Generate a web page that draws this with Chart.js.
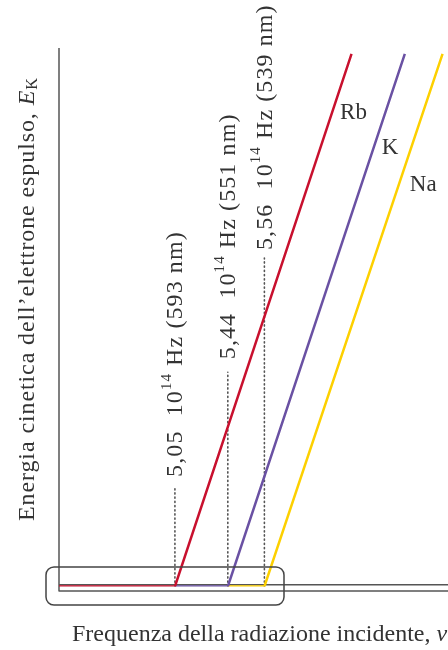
<!DOCTYPE html>
<html>
<head>
<meta charset="utf-8">
<script src="https://cdn.jsdelivr.net/npm/chart.js@4/dist/chart.umd.min.js"></script>
<style>
  html, body { margin: 0; padding: 0; background: #fff; }
  canvas { display: block; }
</style>
</head>
<body>
<canvas id="myChart" width="448" height="650"></canvas>
<script>
// schematic plot: x and y are in arbitrary units (0-100), the graph is not to scale
var metals = ['Rb', 'K', 'Na'];
var thresholdLabels = ['5,05', '5,44', '5,56'];   // x 10^14 Hz
var wavelengths = ['593', '551', '539'];          // nm
var kneeX = [29.8, 43.4, 52.8];                   // threshold frequency on the axis
var topX = [75.2, 88.9, 98.6];
var topY = [98.9, 98.9, 98.9];
var dotTopY = [18.5, 39.8, 61.0];                 // end of the dotted guide lines
var colors = ['#c8102e', '#6a51a3', '#fdd000'];

var SERIF = '"Liberation Serif", "DejaVu Serif", serif';
var TEXT = '#333333';
var AXIS = '#555555';

var datasets = [];
for (var i = 0; i < metals.length; i++) {
    var startX = i == 0 ? 0 : kneeX[i - 1];
    datasets.push({
        label: metals[i],
        data: [{x: startX, y: 0}, {x: kneeX[i], y: 0}, {x: topX[i], y: topY[i]}],
        borderColor: colors[i],
        borderWidth: 2.5,
        showLine: true,
        pointRadius: 0,
        fill: false,
        order: 1
    });
}
for (var j = 0; j < kneeX.length; j++) {
    datasets.push({
        label: 'soglia ' + thresholdLabels[j],
        data: [{x: kneeX[j], y: 0}, {x: kneeX[j], y: dotTopY[j]}],
        borderColor: '#555',
        borderWidth: 1.6,
        borderDash: [1.2, 3],
        borderCapStyle: 'round',
        showLine: true,
        pointRadius: 0,
        order: 2
    });
}

// draws a run of [text, style] pieces along the current x direction
function drawPieces(ctx, pieces, size, spacing) {
    var x = 0;
    ctx.letterSpacing = (spacing || 0) + 'px';
    pieces.forEach(function (p) {
        var s = p.sup ? size * 0.62 : (p.sub ? size * 0.68 : size);
        ctx.font = (p.italic ? 'italic ' : '') + s + 'px ' + SERIF;
        var dy = p.sup ? -size * 0.38 : (p.sub ? size * 0.2 : 0);
        ctx.fillText(p.t, x, dy);
        x += ctx.measureText(p.t).width;
    });
    ctx.letterSpacing = '0px';
}

var decor = {
    id: 'decor',
    beforeDatasetsDraw: function (chart) {
        var ctx = chart.ctx;
        ctx.save();
        ctx.strokeStyle = AXIS;
        ctx.lineWidth = 1.5;
        ctx.beginPath();
        ctx.moveTo(59, 48); ctx.lineTo(59, 591.5);
        ctx.moveTo(59, 584.8); ctx.lineTo(448, 584.8);
        ctx.moveTo(59, 591); ctx.lineTo(448, 591);
        ctx.stroke();
        ctx.restore();
    },
    afterDatasetsDraw: function (chart) {
        var ctx = chart.ctx;
        var xs = chart.scales.x, ys = chart.scales.y;
        ctx.save();
        // inset box around the threshold zone
        ctx.strokeStyle = '#444';
        ctx.lineWidth = 1.5;
        ctx.beginPath();
        ctx.roundRect(46, 567, 238, 38, 8);
        ctx.stroke();

        ctx.fillStyle = TEXT;
        ctx.textBaseline = 'middle';
        // rotated threshold labels
        var gaps = [10, 13, 8];
        for (var i = 0; i < kneeX.length; i++) {
            ctx.save();
            ctx.translate(xs.getPixelForValue(kneeX[i]) + 1, ys.getPixelForValue(dotTopY[i]) - gaps[i]);
            ctx.rotate(-Math.PI / 2);
            drawPieces(ctx, [
                {t: thresholdLabels[i] + '  10'},
                {t: '14', sup: true},
                {t: ' Hz (' + wavelengths[i] + ' nm)'}
            ], 24, 1.1);
            ctx.restore();
        }
        // metal names next to each line
        var labelAt = [88, 81.5, 74.6];
        var labelDx = [8, 8, 11];
        ctx.font = '23px ' + SERIF;
        for (var k = 0; k < metals.length; k++) {
            var t = labelAt[k] / topY[k];
            var lx = kneeX[k] + (topX[k] - kneeX[k]) * t;
            ctx.fillText(metals[k], xs.getPixelForValue(lx) + labelDx[k], ys.getPixelForValue(labelAt[k]));
        }
        // y axis title
        ctx.save();
        ctx.translate(28, 521);
        ctx.rotate(-Math.PI / 2);
        ctx.textBaseline = 'middle';
        drawPieces(ctx, [
            {t: 'Energia cinetica dell\u2019elettrone espulso, '},
            {t: 'E', italic: true},
            {t: 'K', sub: true}
        ], 24, 0.9);
        ctx.restore();
        // x axis title
        ctx.save();
        ctx.translate(72, 641);
        ctx.textBaseline = 'alphabetic';
        drawPieces(ctx, [
            {t: 'Frequenza della radiazione incidente, '},
            {t: '\u03bd', italic: true}
        ], 24, 0);
        ctx.restore();
        ctx.restore();
    }
};

new Chart(document.getElementById('myChart'), {
    type: 'scatter',
    data: {datasets: datasets},
    options: {
        responsive: false,
        animation: false,
        devicePixelRatio: 1,
        layout: {padding: {left: 59, right: 0, top: 48, bottom: 63.5}},
        plugins: {legend: {display: false}, tooltip: {enabled: false}},
        scales: {
            x: {type: 'linear', min: 0, max: 100, display: false},
            y: {type: 'linear', min: 0, max: 100, display: false}
        }
    },
    plugins: [decor]
});
</script>
</body>
</html>
